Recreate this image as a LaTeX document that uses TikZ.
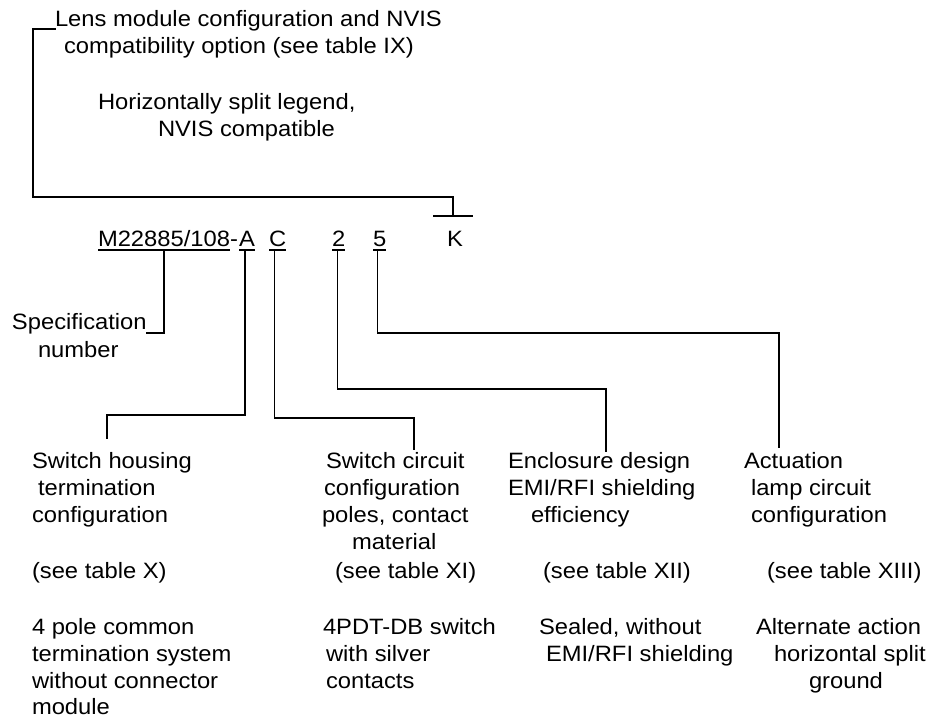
\documentclass[tikz,border=0pt]{standalone}
\usepackage{fontspec}
\setmainfont[FakeStretch=1.07]{Liberation Sans}
\begin{document}
\begin{tikzpicture}[x=1pt,y=-1pt,
  txt/.style={anchor=base west,inner sep=0pt,outer sep=0pt,font=\fontsize{22.2}{27}\selectfont},
  conn/.style={line width=1.6pt,line cap=rect},
  uline/.style={line width=1.6pt}]
\useasboundingbox[fill=white] (0,0) rectangle (929,719);

% Lens block
\node[txt] (lens1) at (55,27) {Lens module configuration and NVIS};
\node[txt] (lens2) at (64,54) {compatibility option (see table IX)};
\node[txt] (opt1) at (98,110) {Horizontally split legend,};
\node[txt] (opt2) at (158,137) {NVIS compatible};

% code line
\node[txt] (spec) at (98,247) {M22885/108};
\node[txt] (dash) at (spec.base east) {-};
\node[txt] (a) at (239,247) {A};
\node[txt] (c) at (269,247) {C};
\node[txt] (two) at (332,247) {2};
\node[txt] (five) at (373,247) {5};
\node[txt] (k) at (447,247) {K};

% underlines
\foreach \n in {spec,a,c,two,five}
  \draw[uline] ([yshift=-3pt]\n.base west) -- ([yshift=-3pt]\n.base east);

% specification label
\node[txt] (specT) at (12,330) {Specification};
\node[txt] (specN) at (38,357) {number};

% column 1
\node[txt] (c1a) at (32,468) {Switch housing};
\node[txt] (c1b) at (38,495) {termination};
\node[txt] (c1c) at (32,522) {configuration};
\node[txt] (c1d) at (32,578) {(see table X)};
\node[txt] (c1e) at (32,634) {4 pole common};
\node[txt] (c1f) at (32,661) {termination system};
\node[txt] (c1g) at (32,688) {without connector};
\node[txt] (c1h) at (32,714) {module};

% column 2
\node[txt] (c2a) at (326,468) {Switch circuit};
\node[txt] (c2b) at (324,495) {configuration};
\node[txt] (c2c) at (322,522) {poles, contact};
\node[txt] (c2d) at (352,549) {material};
\node[txt] (c2e) at (335,578) {(see table XI)};
\node[txt] (c2f) at (323,634) {4PDT-DB switch};
\node[txt] (c2g) at (326,661) {with silver};
\node[txt] (c2h) at (326,688) {contacts};

% column 3
\node[txt] (c3a) at (508,468) {Enclosure design};
\node[txt] (c3b) at (508,495) {EMI/RFI shielding};
\node[txt] (c3c) at (531,522) {efficiency};
\node[txt] (c3d) at (543,578) {(see table XII)};
\node[txt] (c3e) at (539,634) {Sealed, without};
\node[txt] (c3f) at (546,661) {EMI/RFI shielding};

% column 4
\node[txt] (c4a) at (744,468) {Actuation};
\node[txt] (c4b) at (751,495) {lamp circuit};
\node[txt] (c4c) at (751,522) {configuration};
\node[txt] (c4d) at (767,578) {(see table XIII)};
\node[txt] (c4e) at (756,634) {Alternate action};
\node[txt] (c4f) at (774,661) {horizontal split};
\node[txt] (c4g) at (809,688) {ground};

% connector end points
\coordinate (kbar) at (453,216);
\coordinate (c1top) at (107,438);
\coordinate (c2top) at (414,449);
\coordinate (c3top) at (606,451);
\coordinate (c4top) at (779,447);

% lens connector with T bar
\draw[conn] ([xshift=-19pt]kbar) -- ([xshift=19pt]kbar);
\draw[conn] (kbar) |- (33,197) |- ([yshift=-2pt]lens1.base west);

% spec number
\draw[conn] ([yshift=-3pt]spec.base) |- ([yshift=-3pt]specT.base east);

% A
\draw[conn] ([xshift=-2pt,yshift=-3pt]a.base) |- (107,415) -- (c1top);
% C
\draw[conn] ([xshift=-3pt,yshift=-3pt]c.base) |- (414,418) -- (c2top);
% 2
\draw[conn] ([xshift=-1pt,yshift=-3pt]two.base) |- (606,389) -- (c3top);
% 5
\draw[conn] ([xshift=-2pt,yshift=-3pt]five.base) |- (779,333) -- (c4top);
\end{tikzpicture}
\end{document}
